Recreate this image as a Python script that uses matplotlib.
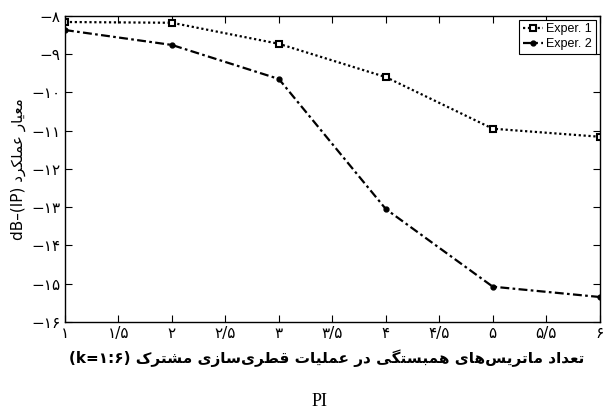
import matplotlib
matplotlib.use('Agg')
from matplotlib import pyplot as plt

# values
k = [1, 2, 3, 4, 5, 6]
exper1 = [-8.16, -8.18, -8.73, -9.60, -10.95, -11.16]
exper2 = [-8.37, -8.76, -9.65, -13.05, -15.08, -15.35]
series_names = ['Exper. 1', 'Exper. 2']
xticks = [1, 1.5, 2, 2.5, 3, 3.5, 4, 4.5, 5, 5.5, 6]
yticks = [-8, -9, -10, -11, -12, -13, -14, -15, -16]
xlabel_fa = 'تعداد ماتریس‌های همبستگی در عملیات قطری‌سازی مشترک'
xlabel_en = '(k=۱:۶)'
ylabel_fa = 'معیار عملکرد'
ylabel_en = 'dB–(IP)'
caption = 'PI'

# contextual forms: isolated, final, initial, medial
FORMS = {
    'ا': '\ufe8d\ufe8e', 'د': '\ufea9\ufeaa', 'ر': '\ufead\ufeae',
    'ز': '\ufeaf\ufeb0', 'و': '\ufeed\ufeee',
    'ب': '\ufe8f\ufe90\ufe91\ufe92', 'ت': '\ufe95\ufe96\ufe97\ufe98',
    'س': '\ufeb1\ufeb2\ufeb3\ufeb4', 'ش': '\ufeb5\ufeb6\ufeb7\ufeb8',
    'ط': '\ufec1\ufec2\ufec3\ufec4', 'ع': '\ufec9\ufeca\ufecb\ufecc',
    'ق': '\ufed5\ufed6\ufed7\ufed8', 'ل': '\ufedd\ufede\ufedf\ufee0',
    'م': '\ufee1\ufee2\ufee3\ufee4', 'ن': '\ufee5\ufee6\ufee7\ufee8',
    'ه': '\ufee9\ufeea\ufeeb\ufeec', 'ک': '\ufb8e\ufb8f\ufb90\ufb91',
    'گ': '\ufb92\ufb93\ufb94\ufb95', 'ی': '\ufbfc\ufbfd\ufbfe\ufbff',
}


def rtl(s):
    """shape persian letters and put them in visual (left to right) order"""
    out = []
    for i, c in enumerate(s):
        if c not in FORMS:
            out.append(c)
            continue
        prev = s[i - 1] if i > 0 else ''
        nxt = s[i + 1] if i + 1 < len(s) else ''
        f = FORMS[c]
        jp = prev in FORMS and len(FORMS[prev]) == 4
        jn = len(f) == 4 and nxt in FORMS
        if jp and jn:
            out.append(f[3])
        elif jp:
            out.append(f[1])
        elif jn:
            out.append(f[2])
        else:
            out.append(f[0])
    return ''.join(reversed(out)).replace('\u200c', '')


def fa_num(v):
    digits = '۰۱۲۳۴۵۶۷۸۹'
    s = ('%g' % v).replace('.', '/').replace('-', '−')
    return ''.join(digits[int(c)] if c.isdigit() else c for c in s)


plt.rcParams['font.family'] = ['DejaVu Sans']
fig = plt.figure(figsize=(6.07, 4.18), dpi=100)
ax = fig.add_axes([0.107, 0.230, 0.881, 0.732])

ax.plot(k, exper1, color='black', lw=1.6, ls=(0, (1, 1.2)), marker='s', markersize=5,
        mfc='white', mec='black', mew=1.5, label=series_names[0])
ax.plot(k, exper2, color='black', lw=1.6, ls=(0, (4, 1.5, 1.2, 1.5)), marker='.',
        markersize=7, label=series_names[1])

ax.set_xlim(1, 6)
ax.set_ylim(-16, -8)
ax.set_xticks(xticks)
ax.set_xticklabels([fa_num(x) for x in xticks], fontsize=11)
ax.set_yticks(yticks)
ax.set_yticklabels([fa_num(y) for y in yticks], fontsize=11)
ax.tick_params(direction='in', top=True, right=True, length=5, width=0.8, pad=3)
for sp in ax.spines.values():
    sp.set_linewidth(1.0)

ax.set_xlabel(xlabel_en + ' ' + rtl(xlabel_fa), fontsize=11, fontweight='bold')
ax.xaxis.set_label_coords(0.49, -0.09)
ax.set_ylabel(ylabel_en + ' ' + rtl(ylabel_fa), fontsize=11, labelpad=4)

leg = ax.legend(loc='upper right', fancybox=False, edgecolor='black', framealpha=1,
                prop={'family': 'Liberation Sans', 'size': 9}, handlelength=1.6,
                borderpad=0.3, labelspacing=0.2, handletextpad=0.3,
                borderaxespad=0.3)
leg.get_frame().set_linewidth(0.8)

fig.text(0.527, 0.04, caption, ha='center', va='center', fontsize=13,
         family='Liberation Serif')

fig.savefig('out.png', dpi=100)
